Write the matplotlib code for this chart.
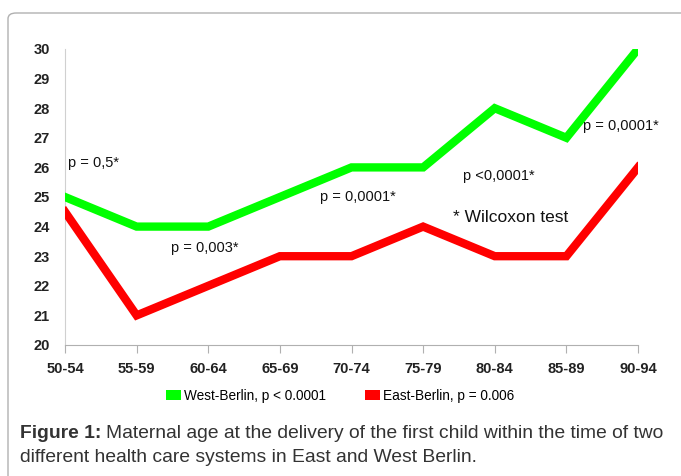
import matplotlib
matplotlib.use("Agg")
import matplotlib.pyplot as plt
from matplotlib.patches import FancyBboxPatch, Patch

categories = ["50-54", "55-59", "60-64", "65-69", "70-74", "75-79", "80-84", "85-89", "90-94"]
west = [25, 24, 24, 25, 26, 26, 28, 27, 30]
east = [24.5, 21, 22, 23, 23, 24, 23, 23, 26]
yticks = [20, 21, 22, 23, 24, 25, 26, 27, 28, 29, 30]

fam = ['Liberation Sans Narrow', 'Liberation Sans', 'DejaVu Sans']
plt.rcParams['font.family'] = fam

fig = plt.figure(figsize=(6.81, 4.76), dpi=100)
fig.patches.append(FancyBboxPatch((8/681, -0.05), 1.3, 1 - 13/476 + 0.05,
                                  boxstyle="round,pad=0,rounding_size=0.012",
                                  transform=fig.transFigure, fill=False,
                                  edgecolor='#b0b0b0', linewidth=1.0, figure=fig))

ax = fig.add_axes([65/681, 1 - 345/476, (638 - 65)/681, (345 - 49)/476])
x = list(range(len(categories)))
ax.plot(x, west, color='#00ff00', linewidth=6, solid_joinstyle='miter', zorder=3)
ax.plot(x, east, color='#ff0000', linewidth=6, solid_joinstyle='miter', zorder=3)

ax.set_xlim(0, len(categories) - 1)
ax.set_ylim(20, 30)
ax.set_yticks(yticks)
ax.set_xticks(x)
ax.set_xticklabels(categories, fontsize=10.5, fontweight='bold', color='#222222')
ax.set_yticklabels([str(v) for v in yticks], fontsize=10.5, fontweight='bold', color='#222222')
for s in ['top', 'right']:
    ax.spines[s].set_visible(False)
ax.spines['left'].set_color('#d0d0d0')
ax.spines['bottom'].set_color('#b0b0b0')
ax.tick_params(axis='y', length=0, pad=11)
ax.tick_params(axis='x', length=6, direction='out', color='#b0b0b0', pad=6)

txt = dict(fontsize=10.5, color='#111111')
ax.text(0.04, 26.15, "p = 0,5*", ha='left', va='center', **txt)
ax.text(1.95, 23.28, "p = 0,003*", ha='center', va='center', **txt)
ax.text(4.09, 25.0, "p = 0,0001*", ha='center', va='center', **txt)
ax.text(6.05, 25.7, "p <0,0001*", ha='center', va='center', **txt)
ax.text(6.22, 24.3, "* Wilcoxon test", ha='center', va='center', fontsize=12.5, color='#111111')
ax.text(7.23, 27.4, "p = 0,0001*", ha='left', va='center', **txt)

handles = [Patch(facecolor='#00ff00', edgecolor='none'), Patch(facecolor='#ff0000', edgecolor='none')]
fig.legend(handles, ["West-Berlin, p < 0.0001", "East-Berlin, p = 0.006"],
           loc='center', bbox_to_anchor=(340/681, 1 - 396/476), ncol=2, frameon=False,
           prop={'family': fam, 'size': 9.8}, handlelength=1.1,
           handleheight=0.8, handletextpad=0.2, columnspacing=2.9)

cap = dict(fontsize=13.9, color='#333333', family=['Liberation Sans', 'DejaVu Sans'], va='center', ha='left')
t1 = fig.text(20/681, 1 - 433/476, "Figure 1:", fontweight='bold', **cap)
fig.canvas.draw()
r = fig.canvas.get_renderer()
bb = t1.get_window_extent(renderer=r)
fig.text((bb.x1 + 5) / 681, 1 - 433/476,
         "Maternal age at the delivery of the first child within the time of two", **cap)
fig.text(20/681, 1 - 457/476, "different health care systems in East and West Berlin.", **cap)

fig.savefig("out.png", dpi=100)
